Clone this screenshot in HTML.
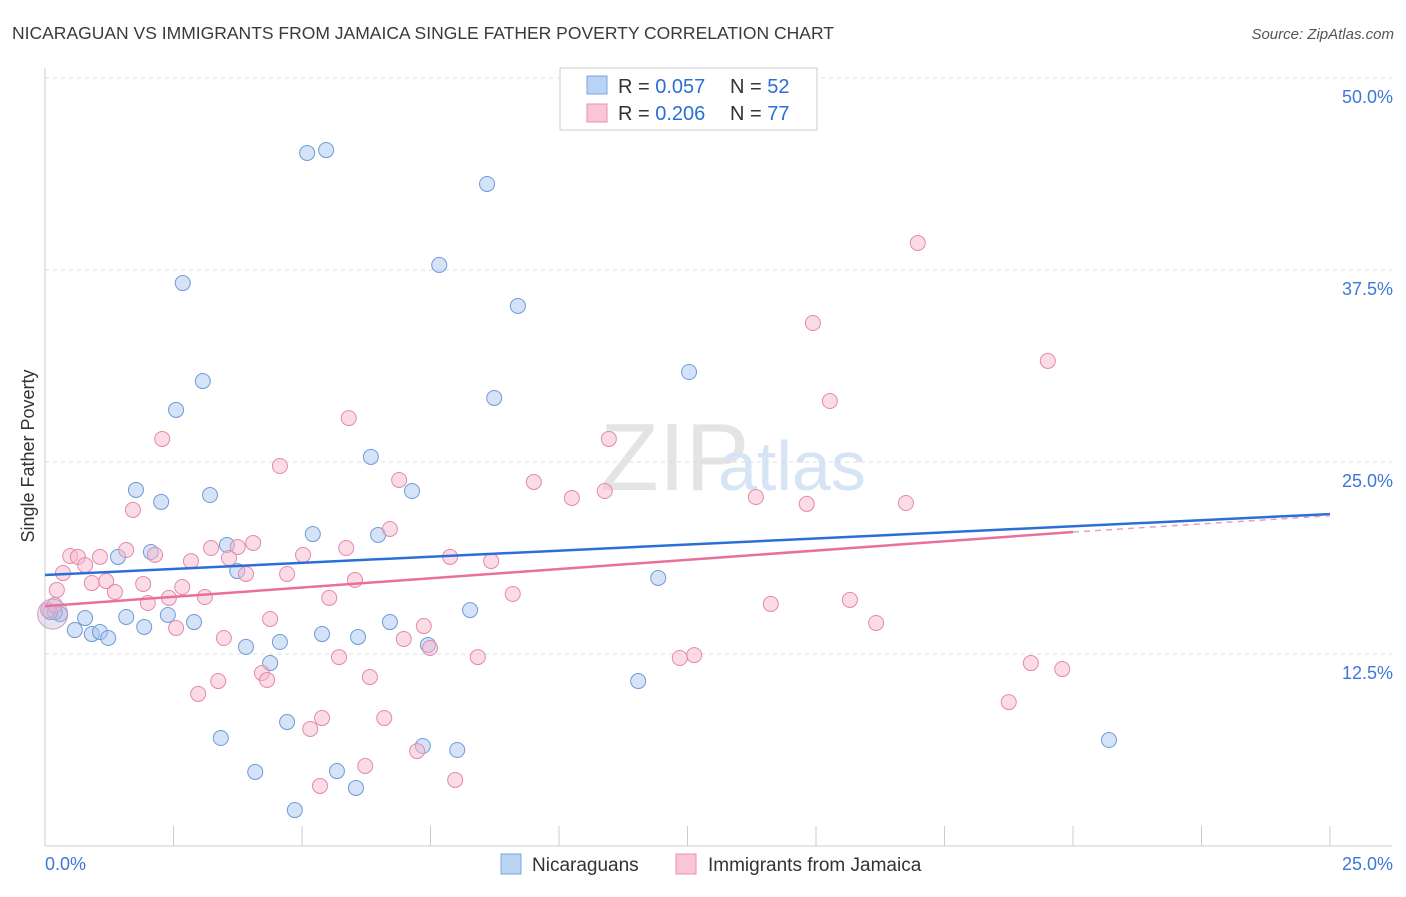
<!DOCTYPE html>
<html><head><meta charset="utf-8"><style>
body{margin:0;background:#fff;font-family:"Liberation Sans",sans-serif;}
svg text{font-family:"Liberation Sans",sans-serif;}
</style></head><body>
<svg id="chart" width="1406" height="892" xmlns="http://www.w3.org/2000/svg">
<text x="12" y="39" font-size="17.5" fill="#3a3a3a">NICARAGUAN VS IMMIGRANTS FROM JAMAICA SINGLE FATHER POVERTY CORRELATION CHART</text>
<text x="1394" y="39" font-size="15" fill="#555" text-anchor="end" font-style="italic">Source: ZipAtlas.com</text>
<text x="600" y="490" font-size="96" fill="#e4e4e4" font-family="Liberation Serif">ZIP</text>
<text x="718" y="490" font-size="70" fill="#d6e4f5">atlas</text>
<g id="grid"></g>
<g id="axes"></g>
<g id="pts"></g>
<g id="trend"></g>
<text transform="translate(34,456) rotate(-90)" font-size="18" fill="#333" text-anchor="middle">Single Father Poverty</text>
<g>
<rect x="560" y="68" width="257" height="62" fill="#fff" stroke="#ccc"/>
<rect x="587" y="76" width="20" height="18" fill="#b8d3f4" stroke="#7aa6e0"/>
<text x="618" y="93" font-size="20" fill="#333">R = <tspan fill="#2b6fd6">0.057</tspan></text>
<text x="730" y="93" font-size="20" fill="#333">N = <tspan fill="#2b6fd6">52</tspan></text>
<rect x="587" y="104" width="20" height="18" fill="#fac6d6" stroke="#e890b0"/>
<text x="618" y="120" font-size="20" fill="#333">R = <tspan fill="#2b6fd6">0.206</tspan></text>
<text x="730" y="120" font-size="20" fill="#333">N = <tspan fill="#2b6fd6">77</tspan></text>
</g>
<g>
<rect x="501" y="854" width="20" height="20" fill="#b8d3f4" stroke="#7aa6e0"/>
<text x="532" y="871" font-size="19" fill="#333">Nicaraguans</text>
<rect x="676" y="854" width="20" height="20" fill="#fac6d6" stroke="#e890b0"/>
<text x="708" y="871" font-size="19" fill="#333">Immigrants from Jamaica</text>
</g>
</svg>
<script>
const blueX=[5.10,5.47,8.60,7.67,2.68,9.20,3.07,12.53,8.74,2.55,6.34,1.77,2.26,3.21,7.14,5.21,6.48,3.54,2.06,1.42,3.74,11.93,8.27,2.39,1.58,2.90,6.71,0.78,0.29,0.19,0.10,0.58,0.91,1.07,1.23,1.93,5.39,6.09,4.57,3.91,7.45,4.38,11.54,4.71,3.42,7.35,8.02,20.70,4.09,5.68,6.05,4.86];
const blueY=[45.12,45.31,43.10,37.83,36.65,35.16,30.27,30.86,29.17,28.39,25.33,23.18,22.40,22.85,23.11,20.31,20.25,19.60,19.14,18.82,17.90,17.45,15.36,15.04,14.91,14.58,14.58,14.84,15.10,15.23,15.23,14.06,13.80,13.93,13.54,14.26,13.80,13.61,13.28,12.96,13.09,11.91,10.74,8.07,7.03,6.51,6.25,6.90,4.82,4.88,3.78,2.34];
const pinkX=[16.98,14.94,19.51,15.27,5.91,2.28,10.97,4.57,6.89,9.51,10.89,10.25,13.83,14.82,16.75,1.71,6.71,4.05,3.23,3.75,5.86,1.58,2.14,0.49,0.64,1.07,0.78,5.02,7.88,8.68,0.35,0.23,2.84,3.58,4.71,3.91,6.03,0.91,1.19,1.91,2.67,1.36,3.11,2.41,5.53,9.10,2.00,14.12,15.66,4.38,16.17,7.37,2.55,3.48,6.98,7.49,5.72,8.42,12.63,12.35,19.18,19.79,4.22,4.32,3.37,6.32,2.98,18.75,5.39,6.60,5.16,7.24,6.23,5.35,7.98,0.06,0.19];
const pinkY=[39.26,34.05,31.58,28.97,27.86,26.50,26.50,24.74,23.83,23.70,23.11,22.66,22.72,22.27,22.33,21.88,20.64,19.73,19.40,19.47,19.40,19.27,18.95,18.88,18.82,18.82,18.29,18.95,18.82,18.55,17.77,16.67,18.55,18.75,17.71,17.71,17.32,17.12,17.25,17.06,16.86,16.54,16.21,16.15,16.15,16.41,15.82,15.76,16.02,14.78,14.52,14.32,14.19,13.54,13.48,12.89,12.30,12.30,12.43,12.24,11.91,11.52,11.26,10.81,10.74,11.00,9.90,9.37,8.33,8.33,7.62,6.18,5.21,3.91,4.30,15.36,15.69];
const yTicks=[12.5,25,37.5,50];
const yTickLabels=["12.5%","25.0%","37.5%","50.0%"];
const blueTrend=[17.64,21.61];
const pinkTrend=[15.62,20.44,21.5];
const NS="http://www.w3.org/2000/svg";
const X=v=>45+v/25*1285, Y=v=>846-v/50*768;
function mk(p,t,a){const e=document.createElementNS(NS,t);for(const k in a)e.setAttribute(k,a[k]);document.getElementById(p).appendChild(e);return e;}
yTicks.forEach((t,i)=>{
 const g=mk('grid','line',{x1:45,x2:1392,y1:Y(t),y2:Y(t),stroke:'#ddd','stroke-dasharray':'4,4'});
 
 
 const l=mk('grid','text',{x:1393,y:Y(t)+25,'font-size':18,fill:'#3b78d8','text-anchor':'end'});
 l.textContent=yTickLabels[i];
 
 
});
const ax=mk('axes','line',{x1:45,x2:45,y1:68,y2:846,stroke:'#ccc'});


const bx=mk('axes','line',{x1:45,x2:1392,y1:846,y2:846,stroke:'#ccc'});


for(let i=0;i<=10;i++){const t=mk('axes','line',{x1:X(i*2.5),x2:X(i*2.5),y1:826,y2:846,stroke:'#ccc'});
 
 }
const x0=mk('axes','text',{x:45,y:870,'font-size':18,fill:'#3b78d8'});x0.textContent='0.0%';


const x1=mk('axes','text',{x:1393,y:870,'font-size':18,fill:'#3b78d8','text-anchor':'end'});x1.textContent='25.0%';


function dots(xs,ys,fill,stroke,name){xs.forEach((v,i)=>{
 const c=mk('pts','circle',{cx:X(v),cy:Y(ys[i]),r:7.5,fill:fill,'fill-opacity':0.5,stroke:stroke,'stroke-width':1});
 
 });}
dots(blueX,blueY,'#a9c8f0','#6f9bd8','nicaraguan-point');
dots(pinkX,pinkY,'#f7b8cc','#e38aab','jamaica-point');
const bb=mk('pts','circle',{cx:X(0.15),cy:Y(15.1),r:15,fill:'#c9b5d8','fill-opacity':0.4,stroke:'#c9a0c0'});


const bl=mk('trend','line',{x1:X(0),y1:Y(blueTrend[0]),x2:X(25),y2:Y(blueTrend[1]),stroke:'#2b6fd6','stroke-width':2.5});


const pl=mk('trend','line',{x1:X(0),y1:Y(pinkTrend[0]),x2:X(20),y2:Y(pinkTrend[1]),stroke:'#e8709a','stroke-width':2.5});


const pd=mk('trend','line',{x1:X(20),y1:Y(pinkTrend[1]),x2:X(25),y2:Y(pinkTrend[2]),stroke:'#e8a0b8','stroke-width':1.5,'stroke-dasharray':'6,5'});


</script>
</body></html>
